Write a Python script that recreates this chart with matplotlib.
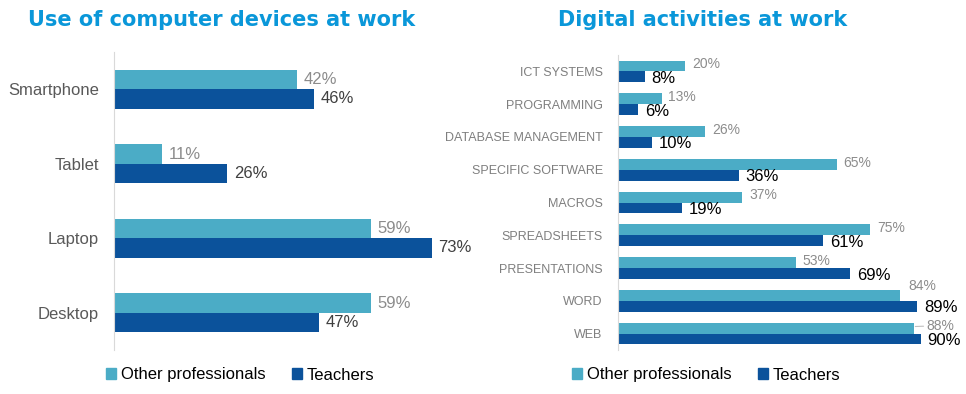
import numpy as np
import matplotlib.pyplot as plt
from matplotlib.patches import Patch

plt.rcParams['font.family'] = ['Liberation Sans', 'DejaVu Sans']

# Left chart data
devices = ['Smartphone', 'Tablet', 'Laptop', 'Desktop']
dev_other = [42, 11, 59, 59]
dev_teachers = [46, 26, 73, 47]

# Right chart data
activities = ['ICT SYSTEMS', 'PROGRAMMING', 'DATABASE MANAGEMENT', 'SPECIFIC SOFTWARE',
              'MACROS', 'SPREADSHEETS', 'PRESENTATIONS', 'WORD', 'WEB']
act_other = [20, 13, 26, 65, 37, 75, 53, 84, 88]
act_teachers = [8, 6, 10, 36, 19, 61, 69, 89, 90]

light = '#4bacc6'
dark = '#0b529b'
title_col = '#0a97d9'

fig = plt.figure(figsize=(9.66, 3.94), dpi=100)

# ---- left panel
ax1 = fig.add_axes([114/966, 1 - 350/394, 366/966, 298/394])
y = np.arange(len(devices))
h = 0.26
ax1.barh(y - h/2, dev_other, height=h, color=light)
ax1.barh(y + h/2, dev_teachers, height=h, color=dark)
for yi, v in zip(y, dev_other):
    ax1.text(v + 1.5, yi - h/2, f'{v}%', va='center', ha='left', fontsize=12, color='#8c8c8c')
for yi, v in zip(y, dev_teachers):
    ax1.text(v + 1.5, yi + h/2, f'{v}%', va='center', ha='left', fontsize=12, color='#404040')
ax1.set_xlim(0, 84)
ax1.set_ylim(len(devices) - 0.5, -0.5)
ax1.set_yticks(y)
ax1.set_yticklabels(devices, fontsize=12, color='#595959')
ax1.tick_params(axis='y', length=0, pad=11)
ax1.set_xticks([])
for s in ['top', 'right', 'bottom']:
    ax1.spines[s].set_visible(False)
ax1.spines['left'].set_color('#d9d9d9')
fig.text(222/966, 1 - 20/394, 'Use of computer devices at work', ha='center', va='center',
         fontsize=15, fontweight='bold', color=title_col, family='DejaVu Sans')

# ---- right panel
ax2 = fig.add_axes([618/966, 1 - 350/394, 348/966, 295/394])
y2 = np.arange(len(activities))
h2 = 0.33
ax2.barh(y2 - h2/2, act_other, height=h2, color=light)
ax2.barh(y2 + h2/2, act_teachers, height=h2, color=dark)
for yi, o, t in zip(y2, act_other, act_teachers):
    if o < t and t - o < 3:
        # very close to the teachers bar: push label past it with a leader line
        ax2.annotate(f'{o}%', xy=(o, yi - h2/2 - 0.05), xytext=(t + 1.7, yi - h2/2 - 0.08),
                     va='center', ha='left', fontsize=10, color='#8c8c8c',
                     arrowprops=dict(arrowstyle='-', color='#bfbfbf', lw=0.8,
                                     shrinkA=0, shrinkB=1))
    elif o < t and t - o < 6:
        # lift it above the bar
        ax2.text(o + 2.3, yi - h2 - 0.12, f'{o}%', va='center', ha='left', fontsize=10, color='#8c8c8c')
    else:
        ax2.text(o + 2, yi - h2/2 - 0.05, f'{o}%', va='center', ha='left', fontsize=10, color='#8c8c8c')
    ax2.text(t + 2, yi + h2/2 + 0.05, f'{t}%', va='center', ha='left', fontsize=12, color='black')
ax2.set_xlim(0, 103.5)
ax2.set_ylim(len(activities) - 0.5, -0.5)
ax2.set_yticks(y2)
ax2.set_yticklabels(activities, fontsize=9, color='#7f7f7f')
ax2.tick_params(axis='y', length=0, pad=11)
ax2.set_xticks([])
for s in ['top', 'right', 'bottom']:
    ax2.spines[s].set_visible(False)
ax2.spines['left'].set_color('#d9d9d9')
fig.text(703/966, 1 - 20/394, 'Digital activities at work', ha='center', va='center',
         fontsize=15, fontweight='bold', color=title_col, family='DejaVu Sans')

# ---- legends
handles = [Patch(color=light, label='Other professionals'), Patch(color=dark, label='Teachers')]
for cx in [240/966, 706/966]:
    fig.legend(handles=handles, loc='center', bbox_to_anchor=(cx, 1 - 375/394), ncol=2,
               frameon=False, fontsize=12, handlelength=0.6, handleheight=0.6,
               handletextpad=0.3, columnspacing=1.6)

fig.savefig('out.png', dpi=100)
